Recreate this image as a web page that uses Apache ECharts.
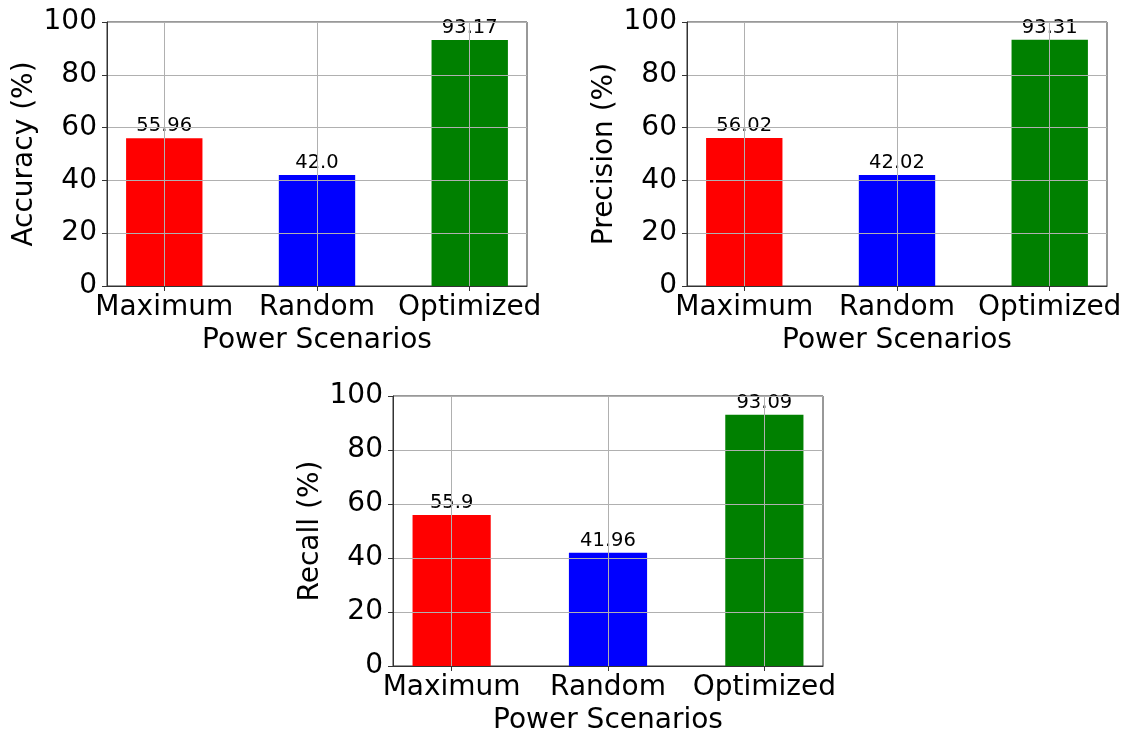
<!DOCTYPE html>
<html>
<head>
<meta charset="utf-8">
<title>Power Scenarios</title>
<script src="https://cdn.jsdelivr.net/npm/echarts@6/dist/echarts.min.js"></script>
<style>
	html, body {
		margin: 0;
		padding: 0;
		background: #fff;
	}
	#main {
		width: 1130px;
		height: 736px;
	}
</style>
</head>
<body>
<div id="main"></div>
<script>
// 数据
const categories = ["Maximum", "Random", "Optimized"];
const accuracy = [55.96, 42.0, 93.17];
const precision = [56.02, 42.02, 93.31];
const recall = [55.9, 41.96, 93.09];
const yTicks = [0, 20, 40, 60, 80, 100];
const barColors = ["#ff0000", "#0000ff", "#008000"];

const fontFamily = "DejaVu Sans";
const tickFont = 28;

// 三个子图的位置
const panels = [
	{ name: "Accuracy (%)", values: accuracy, left: 107, top: 22, width: 420, height: 264 },
	{ name: "Precision (%)", values: precision, left: 687, top: 22, width: 420, height: 264 },
	{ name: "Recall (%)", values: recall, left: 393, top: 396, width: 430, height: 270 },
];

// 跟 python 的 str(float) 一样，整数也保留一位小数
function pyFloat(v) {
	return Number.isInteger(v) ? v.toFixed(1) : String(v);
}

const grid = [];
const xAxis = [];
const yAxis = [];
const series = [];

panels.forEach((p, i) => {
	grid.push({
		left: p.left,
		top: p.top,
		width: p.width,
		height: p.height,
		show: true,
		borderColor: "#333",
		borderWidth: 1,
		backgroundColor: "transparent",
	});
	xAxis.push({
		type: "value",
		gridIndex: i,
		min: -0.375,
		max: 2.375,
		z: 5,
		name: "Power Scenarios",
		nameLocation: "middle",
		nameGap: 41,
		nameTextStyle: { fontFamily: fontFamily, fontSize: tickFont, color: "#000" },
		axisLine: { onZero: false, lineStyle: { color: "#333", width: 1 } },
		axisTick: { show: true, length: 5, customValues: [0, 1, 2], lineStyle: { color: "#333" } },
		axisLabel: {
			customValues: [0, 1, 2],
			margin: 8,
			fontFamily: fontFamily,
			fontSize: tickFont,
			color: "#000",
			formatter: (v) => categories[Math.round(v)],
		},
		splitLine: { show: true, lineStyle: { color: "#b0b0b0", width: 1 } },
	});
	yAxis.push({
		type: "value",
		gridIndex: i,
		min: 0,
		max: 100,
		interval: 20,
		z: 5,
		name: p.name,
		nameLocation: "middle",
		nameGap: 68,
		nameTextStyle: { fontFamily: fontFamily, fontSize: tickFont, color: "#000" },
		axisLine: { show: true, onZero: false, lineStyle: { color: "#333", width: 1 } },
		axisTick: { show: true, length: 5, lineStyle: { color: "#333" } },
		axisLabel: {
			margin: 10,
			fontFamily: fontFamily,
			fontSize: tickFont,
			color: "#000",
			customValues: yTicks,
		},
		splitLine: { show: true, lineStyle: { color: "#b0b0b0", width: 1 } },
	});
	series.push({
		type: "bar",
		xAxisIndex: i,
		yAxisIndex: i,
		barWidth: (0.5 * p.width) / 2.75, //柱子宽度 0.5 个单位
		data: p.values.map((v, k) => {
			return { value: [k, v], itemStyle: { color: barColors[k] } };
		}),
		label: {
			show: true,
			position: "top",
			distance: 2,
			fontFamily: fontFamily,
			fontSize: 19.5,
			color: "#000",
			formatter: (arg) => pyFloat(arg.value[1]),
		},
	});
});

const chartInstance = echarts.init(document.getElementById("main"), null, { renderer: "canvas" });
chartInstance.setOption({
	animation: false,
	grid: grid,
	xAxis: xAxis,
	yAxis: yAxis,
	series: series,
});
</script>
</body>
</html>
